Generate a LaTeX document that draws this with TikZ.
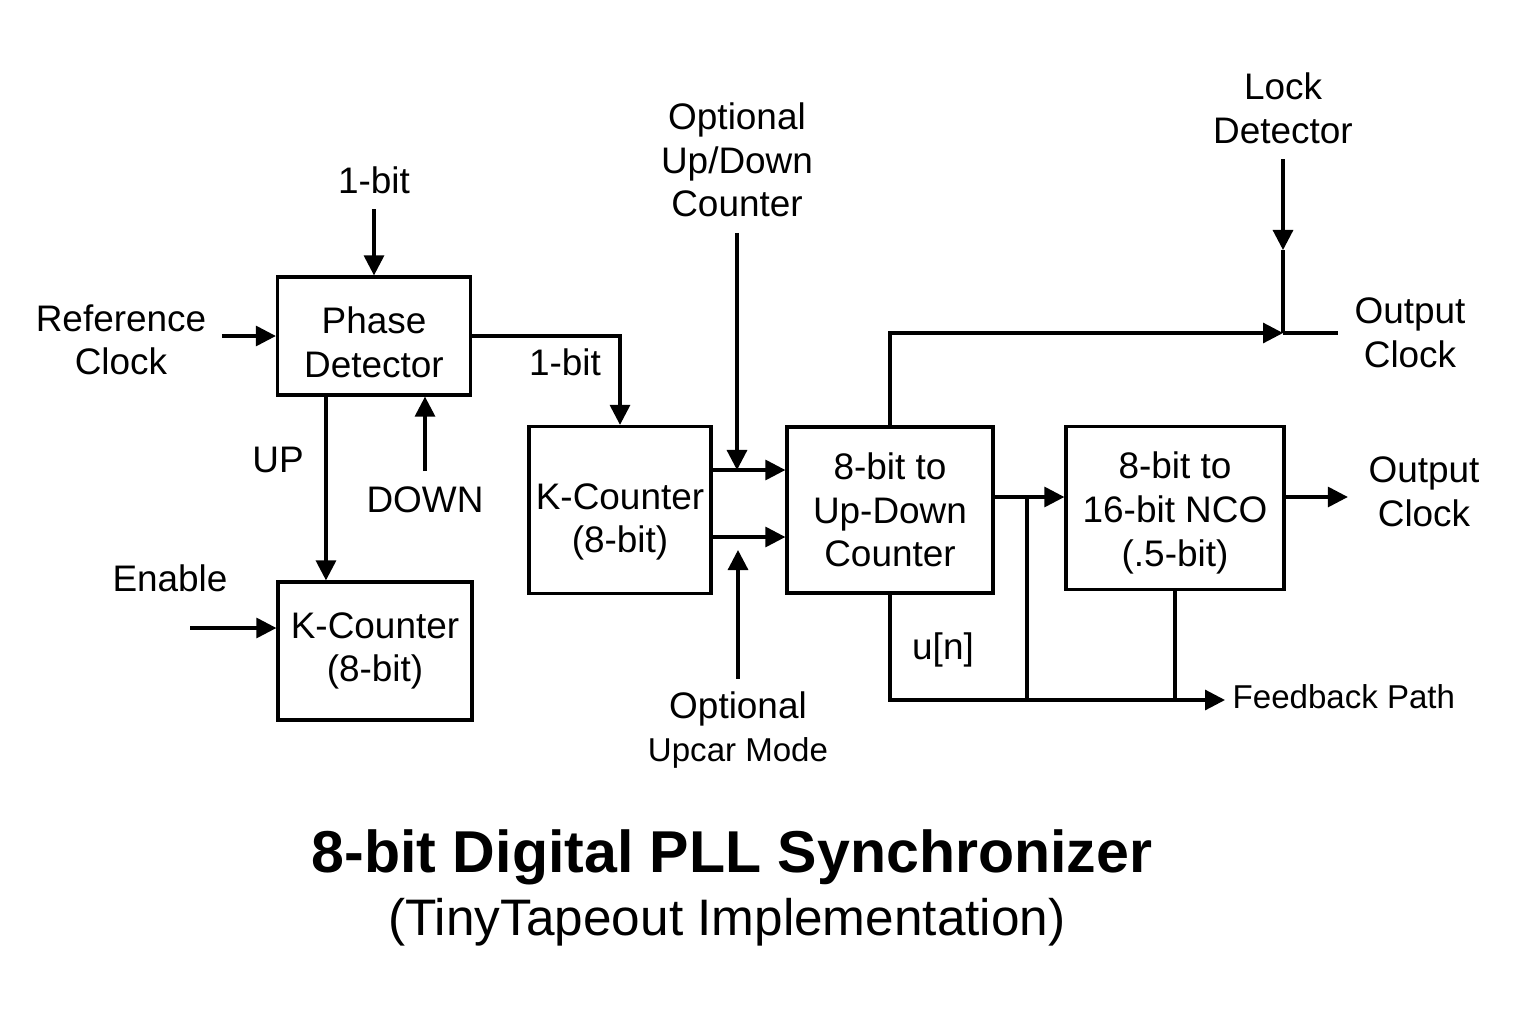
\documentclass[tikz,border=0pt]{standalone}
\usepackage{fontspec}
\setmainfont{Liberation Sans}
\usetikzlibrary{positioning, arrows.meta, calc}

\begin{document}
\begin{tikzpicture}[
  x=0.01cm, y=-0.01cm,
  >={Triangle[length=2mm, width=2mm]},
  every node/.style={font=\fontsize{10.5}{12.4}\selectfont, align=center, inner sep=0pt},
  blk/.style   = {draw, line width=0.9pt, inner sep=2pt},
  wire/.style  = {line width=0.9pt},
  arr/.style   = {wire, ->},
  small/.style = {font=\fontsize{9.4}{11}\selectfont},
  title/.style = {font=\bfseries\fontsize{16.8}{20}\selectfont},
  subt/.style  = {font=\fontsize{14.6}{17}\selectfont},
]
  \useasboundingbox (0,0) rectangle (1536,1024);

  % blocks
  \node[blk, minimum width=1.93cm, minimum height=1.18cm,
        label={[yshift=-0.06cm]center:{Phase\\Detector}}] (pd) at (374,336) {};
  \node[blk, minimum width=1.94cm, minimum height=1.38cm] (kc1)  at (375,651)  {K-Counter\\(8-bit)};
  \node[blk, minimum width=1.82cm, minimum height=1.67cm,
        label={[yshift=-0.12cm]center:{K-Counter\\(8-bit)}}] (kc2) at (620,510) {};
  \node[blk, minimum width=2.06cm, minimum height=1.66cm] (conv) at (890,510)  {8-bit to\\Up-Down\\Counter};
  \node[blk, minimum width=2.18cm, minimum height=1.63cm,
        label={[yshift=-0.05cm]center:{8-bit to\\16-bit NCO\\(.5-bit)}}] (nco) at (1175,508) {};

  % labels
  \node (bit1) at (374,180)  {1-bit};
  \node (ref)  at (121,340)  {Reference\\Clock};
  \node (bit2) at (565,362)  {1-bit};
  \node (up)   at (278,460)  {UP};
  \node (down) at (425,500)  {DOWN};
  \node (en)   at (170,578)  {Enable};
  \node (optu) at (737,160)  {Optional\\Up/Down\\Counter};
  \node (optd) at (738,730)  {Optional\\\fontsize{9.4}{11}\selectfont Upcar Mode};
  \node (lock) at (1283,108) {Lock\\Detector};
  \node (out1) at (1410,333) {Output\\Clock};
  \node (out2) at (1424,492) {Output\\Clock};
  \node (un)   at (943,650)  {u[n]};
  \node[small, anchor=west] (fb) at (1232,697) {Feedback Path};
  \node[title] (ttl) at (732,857) {8-bit Digital PLL Synchronizer};
  \node[subt]  (sub) at (727,922) {(TinyTapeout Implementation)};

  % junction points
  \coordinate (enin)  at (190,628);
  \coordinate (ka)    at ($(kc2.east)+(0,-40)$);
  \coordinate (kb)    at ($(kc2.east)+(0,27)$);
  \coordinate (cn)    at ($(conv.east)+(0,-13)$);
  \coordinate (br)    at (1027,497);
  \coordinate (jo)    at (1283,333);
  \coordinate (jl)    at (1283,250);
  \coordinate (oend)  at (1338,333);
  \coordinate (fbend) at (1225,700);

  % phase detector side
  \draw[arr, shorten <=1.5mm] (bit1.south) -- (pd.north);
  \draw[arr, shorten <=1.5mm] (ref.east |- pd.west) -- (pd.west);
  \draw[arr] (pd.east) -| (kc2.north);
  \draw[arr] ([xshift=-4.8mm]pd.south) -- ([xshift=-4.8mm]pd.south |- kc1.north);
  \draw[arr] ($(down.north)+(0,-15)$) -- (down.north |- pd.south);
  \draw[arr] (enin) -- (enin -| kc1.west);

  % counter to converter
  \foreach \p in {ka, kb}
    \draw[arr] (\p) -- (\p -| conv.west);
  \draw[arr, shorten <=1.5mm] (optu.south) -- (optu.south |- ka);
  \draw[arr, shorten <=1.2mm] (optd.north) -- ($(optd.north |- kb)+(0,13)$);

  % outputs
  \draw[arr] (conv.north) |- (jo);
  \draw[wire] (jo) -- (oend);
  \draw[arr, shorten <=1.5mm] (lock.south) -- (jl);
  \draw[wire] (jl) -- (jo);
  \draw[arr] (cn) -- (cn -| nco.west);
  \draw[arr, shorten >=2mm] (nco.east |- cn) -- (out2.west |- cn);

  % feedback
  \draw[arr] (conv.south) |- (fbend);
  \draw[wire] (br) -- (br |- fbend);
  \draw[wire] (nco.south) -- (nco.south |- fbend);
\end{tikzpicture}
\end{document}
